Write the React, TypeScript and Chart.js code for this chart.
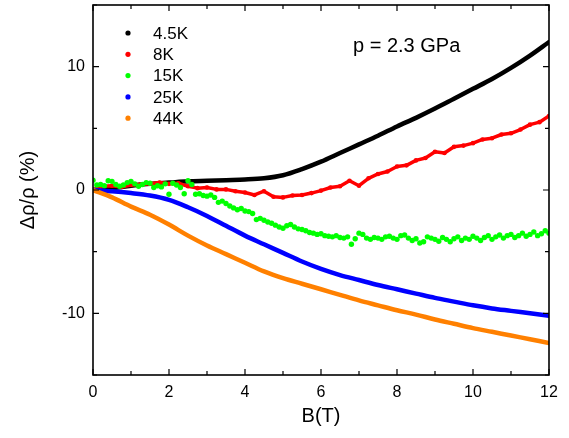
import React, { useEffect, useRef } from "react";
import { Chart, registerables } from "chart.js";
Chart.register(...registerables);

// ---- data ----
const FIELD_COARSE = [0, 0.5, 1, 1.5, 2, 2.5, 3, 3.5, 4, 4.5, 5, 5.5, 6, 6.5, 7, 7.5, 8, 8.5, 9, 9.5, 10, 10.5, 11, 11.5, 12];
const RHO_4_5K = [0, 0.15, 0.35, 0.5, 0.6, 0.7, 0.75, 0.8, 0.85, 0.95, 1.2, 1.7, 2.3, 3.0, 3.7, 4.4, 5.15, 5.85, 6.6, 7.4, 8.2, 9.0, 9.9, 10.9, 12.0];
const RHO_25K = [0, -0.1, -0.25, -0.45, -0.8, -1.4, -2.1, -2.9, -3.7, -4.4, -5.1, -5.8, -6.4, -6.9, -7.3, -7.7, -8.05, -8.4, -8.75, -9.05, -9.35, -9.6, -9.8, -10.0, -10.2];
const RHO_44K = [0, -0.6, -1.35, -2.0, -2.8, -3.7, -4.5, -5.2, -5.9, -6.6, -7.15, -7.6, -8.05, -8.5, -8.95, -9.35, -9.75, -10.1, -10.5, -10.85, -11.2, -11.5, -11.8, -12.1, -12.4];

const FIELD_8K = [0, 0.25, 0.5, 0.75, 1, 1.25, 1.5, 1.75, 2, 2.25, 2.5, 2.75, 3, 3.25, 3.5, 3.75, 4, 4.25, 4.5, 4.75, 5, 5.25, 5.5, 5.75, 6, 6.25, 6.5, 6.75, 7, 7.25, 7.5, 7.75, 8, 8.25, 8.5, 8.75, 9, 9.25, 9.5, 9.75, 10, 10.25, 10.5, 10.75, 11, 11.25, 11.5, 11.75, 12];
const RHO_8K = [0, 0.3, 0.35, 0.25, 0.4, 0.45, 0.5, 0.6, 0.5, 0.55, 0.3, 0.15, 0.2, 0.05, 0.05, -0.1, -0.2, -0.4, -0.1, -0.55, -0.6, -0.45, -0.4, -0.25, -0.05, 0.2, 0.3, 0.75, 0.35, 0.95, 1.3, 1.5, 1.9, 2.0, 2.4, 2.6, 3.1, 3.0, 3.5, 3.6, 3.8, 4.1, 4.2, 4.5, 4.6, 4.9, 5.3, 5.5, 6.0];

const FIELD_15K = [
  0, 0.1, 0.2, 0.3, 0.4, 0.5, 0.6, 0.7, 0.8, 0.9,
  1, 1.1, 1.2, 1.3, 1.4, 1.5, 1.6, 1.7, 1.8, 1.9,
  2, 2.1, 2.2, 2.3, 2.4, 2.5, 2.6, 2.7, 2.8, 2.9,
  3, 3.1, 3.2, 3.3, 3.4, 3.5, 3.6, 3.7, 3.8, 3.9,
  4, 4.1, 4.2, 4.3, 4.4, 4.5, 4.6, 4.7, 4.8, 4.9,
  5, 5.1, 5.2, 5.3, 5.4, 5.5, 5.6, 5.7, 5.8, 5.9,
  6, 6.1, 6.2, 6.3, 6.4, 6.5, 6.6, 6.7, 6.8, 6.9,
  7, 7.1, 7.2, 7.3, 7.4, 7.5, 7.6, 7.7, 7.8, 7.9,
  8, 8.1, 8.2, 8.3, 8.4, 8.5, 8.6, 8.7, 8.8, 8.9,
  9, 9.1, 9.2, 9.3, 9.4, 9.5, 9.6, 9.7, 9.8, 9.9,
  10, 10.1, 10.2, 10.3, 10.4, 10.5, 10.6, 10.7, 10.8, 10.9,
  11, 11.1, 11.2, 11.3, 11.4, 11.5, 11.6, 11.7, 11.8, 11.9, 12,
];
const RHO_15K = [
  0.8, 0.4, 0.45, 0.35, 0.75, 0.7, 0.45, 0.3, 0.4, 0.6,
  0.7, 0.5, 0.3, 0.45, 0.6, 0.55, 0.2, 0.35, 0.25, 0.5,
  -0.35, 0.55, 0.4, 0.2, -0.3, 0.75, 0.45, -0.35, -0.3, -0.45,
  -0.5, -0.4, -0.6, -1.0, -0.9, -1.1, -1.3, -1.45, -1.6, -1.5,
  -1.7, -1.75, -1.9, -2.4, -2.3, -2.45, -2.6, -2.7, -2.85, -3.0,
  -3.1, -2.9, -2.8, -3.0, -3.15, -3.2, -3.3, -3.45, -3.5, -3.6,
  -3.55, -3.7, -3.75, -3.8, -3.7, -3.85, -3.9, -3.8, -4.4, -3.95,
  -3.5, -3.6, -3.9, -4.0, -3.85, -3.9, -4.0, -3.8, -3.75, -3.9,
  -4.0, -3.7, -3.65, -3.9, -4.1, -3.95, -4.3, -4.2, -3.8, -3.9,
  -4.0, -4.15, -3.85, -4.0, -4.2, -3.95, -3.8, -4.1, -3.9, -4.0,
  -3.75, -3.9, -4.1, -3.85, -3.7, -4.0, -3.8, -3.65, -3.9, -3.7,
  -3.6, -3.85, -3.7, -3.5, -3.75, -3.6, -3.4, -3.7, -3.55, -3.3, -3.5,
];

const LEGEND_LABELS = ["4.5K", "8K", "15K", "25K", "44K"];
const COLORS = ["#000000", "#ff0000", "#00ff00", "#0000ff", "#ff8000"];
const X_MAJOR = [0, 2, 4, 6, 8, 10, 12];
const X_MINOR = [1, 3, 5, 7, 9, 11];
const Y_MAJOR = [-10, 0, 10];
const Y_MINOR = [-15, -5, 5, 15];
const X_TITLE = "B(T)";
const Y_TITLE = "\u0394\u03c1/\u03c1 (%)";
const NOTE = "p = 2.3 GPa";

const FONT = "'Liberation Sans', Arial, sans-serif";

const pairs = (xs: number[], ys: number[]) => xs.map((x, i) => ({ x, y: ys[i] }));

const decorPlugin = {
  id: "decor",
  afterDatasetsDraw(chart: any) {
    const { ctx, chartArea: a, scales } = chart;
    const xs = scales.x;
    const ys = scales.y;
    ctx.save();
    // frame
    ctx.strokeStyle = "#000";
    ctx.lineWidth = 1.6;
    ctx.strokeRect(a.left, a.top, a.right - a.left, a.bottom - a.top);
    // ticks
    ctx.lineWidth = 1.2;
    const tick = (vals: number[], len: number) => {
      for (const v of vals) {
        const px = xs.getPixelForValue(v);
        ctx.beginPath();
        ctx.moveTo(px, a.bottom);
        ctx.lineTo(px, a.bottom - len);
        ctx.moveTo(px, a.top);
        ctx.lineTo(px, a.top + len);
        ctx.stroke();
      }
    };
    const ytick = (vals: number[], len: number) => {
      for (const v of vals) {
        const py = ys.getPixelForValue(v);
        ctx.beginPath();
        ctx.moveTo(a.left, py);
        ctx.lineTo(a.left + len, py);
        ctx.moveTo(a.right, py);
        ctx.lineTo(a.right - len, py);
        ctx.stroke();
      }
    };
    tick(X_MAJOR, 6);
    tick(X_MINOR, 4);
    ytick(Y_MAJOR, 6);
    ytick(Y_MINOR, 4);

    // legend
    ctx.font = `17px ${FONT}`;
    ctx.textBaseline = "middle";
    ctx.textAlign = "left";
    LEGEND_LABELS.forEach((lab, i) => {
      const y = 33 + i * 21.3;
      ctx.fillStyle = COLORS[i];
      ctx.beginPath();
      ctx.arc(128, y, 2.6, 0, Math.PI * 2);
      ctx.fill();
      ctx.fillStyle = "#000";
      ctx.fillText(lab, 153, y + 1);
    });

    // note
    ctx.font = `20px ${FONT}`;
    ctx.fillText(NOTE, 353, 46);

    // axis titles
    ctx.font = `20px ${FONT}`;
    ctx.textAlign = "center";
    ctx.fillText(X_TITLE, (a.left + a.right) / 2, 416);
    ctx.translate(28, (a.top + a.bottom) / 2);
    ctx.rotate(-Math.PI / 2);
    ctx.fillText(Y_TITLE, 0, 0);
    ctx.restore();
  },
};

export default function App() {
  const ref = useRef<HTMLCanvasElement | null>(null);
  useEffect(() => {
    if (!ref.current) return;
    const lineDs = (label: string, xs: number[], ys: number[], color: string, order: number, width: number) => ({
      label,
      data: pairs(xs, ys),
      showLine: true,
      borderColor: color,
      backgroundColor: color,
      borderWidth: width,
      pointRadius: 0,
      cubicInterpolationMode: "monotone",
      borderCapStyle: "round",
      borderJoinStyle: "round",
      order,
    });
    const chart = new Chart(ref.current, {
      type: "scatter",
      data: {
        datasets: [
          lineDs(LEGEND_LABELS[0], FIELD_COARSE, RHO_4_5K, COLORS[0], 5, 4.5) as any,
          {
            label: LEGEND_LABELS[1],
            data: pairs(FIELD_8K, RHO_8K),
            showLine: true,
            borderColor: COLORS[1],
            backgroundColor: COLORS[1],
            borderWidth: 3.5,
            tension: 0,
            pointRadius: 2.3,
            pointBorderWidth: 0,
            borderCapStyle: "round",
            borderJoinStyle: "round",
            order: 4,
          },
          {
            label: LEGEND_LABELS[2],
            data: pairs(FIELD_15K, RHO_15K),
            showLine: false,
            borderColor: COLORS[2],
            backgroundColor: COLORS[2],
            pointRadius: 2.7,
            pointBorderWidth: 0,
            order: 3,
          },
          lineDs(LEGEND_LABELS[3], FIELD_COARSE, RHO_25K, COLORS[3], 2, 4.5) as any,
          lineDs(LEGEND_LABELS[4], FIELD_COARSE, RHO_44K, COLORS[4], 1, 4.5) as any,
        ],
      },
      options: {
        animation: false,
        responsive: false,
        events: [],
        layout: { padding: { top: 5, right: 20, left: 0, bottom: 0 } },
        plugins: { legend: { display: false }, tooltip: { enabled: false } },
        scales: {
          x: {
            type: "linear",
            min: 0,
            max: 12,
            grid: { display: false, drawTicks: false },
            border: { display: false },
            afterBuildTicks: (s: any) => {
              s.ticks = X_MAJOR.map((v) => ({ value: v }));
            },
            afterFit: (s: any) => {
              s.height = 63;
              s.paddingLeft = 0;
              s.paddingRight = 0;
            },
            ticks: {
              color: "#000",
              font: { family: FONT, size: 16 },
              padding: 8,
              maxRotation: 0,
              autoSkip: false,
            },
          },
          y: {
            type: "linear",
            min: -15,
            max: 15,
            grid: { display: false, drawTicks: false },
            border: { display: false },
            afterBuildTicks: (s: any) => {
              s.ticks = Y_MAJOR.map((v) => ({ value: v }));
            },
            afterFit: (s: any) => {
              s.width = 93;
              s.paddingTop = 0;
              s.paddingBottom = 0;
            },
            ticks: {
              color: "#000",
              font: { family: FONT, size: 16 },
              padding: 8,
              autoSkip: false,
            },
          },
        },
      } as any,
      plugins: [decorPlugin],
    });
    return () => chart.destroy();
  }, []);
  return (
    <div style={{ position: "fixed", left: 0, top: 0, width: 569, height: 438, background: "#fff" }}>
      <canvas ref={ref} width={569} height={438} style={{ width: 569, height: 438, display: "block" }} />
    </div>
  );
}
